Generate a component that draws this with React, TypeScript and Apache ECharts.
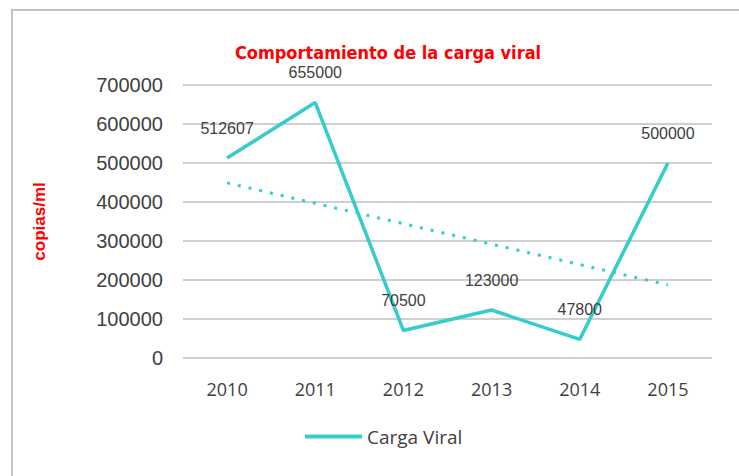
import React, { useEffect, useRef } from "react";
import * as echarts from "echarts";

const years = ["2010", "2011", "2012", "2013", "2014", "2015"];
const cargaViral = [512607, 655000, 70500, 123000, 47800, 500000];
const yTicks = [0, 100000, 200000, 300000, 400000, 500000, 600000, 700000];

function linearTrend(values: number[]): number[] {
  const n = values.length;
  const mx = (n - 1) / 2;
  const my = values.reduce((a, b) => a + b, 0) / n;
  let sxy = 0;
  let sxx = 0;
  values.forEach((v, i) => {
    sxy += (i - mx) * (v - my);
    sxx += (i - mx) * (i - mx);
  });
  const slope = sxy / sxx;
  return values.map((_, i) => my + slope * (i - mx));
}

export default function App() {
  const ref = useRef<HTMLDivElement>(null);
  useEffect(() => {
    document.body.style.margin = "0";
    const chart = echarts.init(ref.current!, undefined, { renderer: "svg" });
    const teal = "#36CCCB";
    chart.setOption({
      animation: false,
      backgroundColor: "#ffffff",
      graphic: [
        {
          type: "rect",
          shape: { x: 12, y: 10, width: 760, height: 500 },
          style: { fill: "none", stroke: "#c4c4c4", lineWidth: 2 },
          silent: true,
        },
      ],
      title: {
        text: "Comportamiento de la carga viral",
        left: 383,
        top: 38,
        textAlign: "center",
        textStyle: {
          color: "#ff0000",
          fontSize: 18,
          fontWeight: "bold",
          fontFamily: "DejaVu Sans Condensed, Liberation Sans",
        },
      },
      grid: { left: 183, right: 27, top: 85, bottom: 118, containLabel: false },
      xAxis: {
        type: "category",
        data: years,
        boundaryGap: true,
        axisLine: { show: false },
        axisTick: { show: false },
        axisLabel: {
          color: "#404040",
          fontSize: 18,
          fontFamily: "Open Sans",
          margin: 22,
        },
      },
      yAxis: {
        type: "value",
        min: yTicks[0],
        max: yTicks[yTicks.length - 1],
        interval: 100000,
        name: "copias/ml",
        nameLocation: "middle",
        nameGap: 135,
        nameRotate: 90,
        nameTextStyle: {
          color: "#ff0000",
          fontSize: 17,
          fontWeight: "bold",
          fontFamily: "Liberation Sans",
        },
        axisLine: { show: false },
        axisTick: { show: false },
        axisLabel: {
          color: "#404040",
          fontSize: 20,
          fontFamily: "Liberation Sans",
          margin: 20,
          formatter: (v: number) => String(v),
        },
        splitLine: { lineStyle: { color: "#bfbfbf", width: 1.5 } },
      },
      legend: {
        data: [{ name: "Carga Viral", icon: "rect" }],
        bottom: 25,
        left: 300,
        itemWidth: 57,
        itemHeight: 4,
        itemGap: 4,
        textStyle: {
          color: "#404040",
          fontSize: 19,
          fontFamily: "Open Sans",
        },
      },
      series: [
        {
          name: "Carga Viral",
          type: "line",
          data: cargaViral,
          symbol: "circle",
          symbolSize: 0,
          showSymbol: true,
          lineStyle: { color: teal, width: 3.5 },
          itemStyle: { color: teal },
          label: {
            show: true,
            position: "top",
            distance: 22,
            color: "#404040",
            fontSize: 16,
            fontFamily: "Liberation Sans",
            formatter: (p: any) => String(p.value),
          },
          z: 3,
        },
        {
          name: "Tendencia",
          type: "line",
          data: linearTrend(cargaViral),
          symbol: "none",
          lineStyle: { color: teal, width: 3, type: [3, 8] },
          itemStyle: { color: teal },
          z: 2,
        },
      ],
    });
    return () => chart.dispose();
  }, []);
  return (
    <div
      ref={ref}
      style={{ position: "absolute", left: 0, top: 0, width: 739, height: 476 }}
    />
  );
}
